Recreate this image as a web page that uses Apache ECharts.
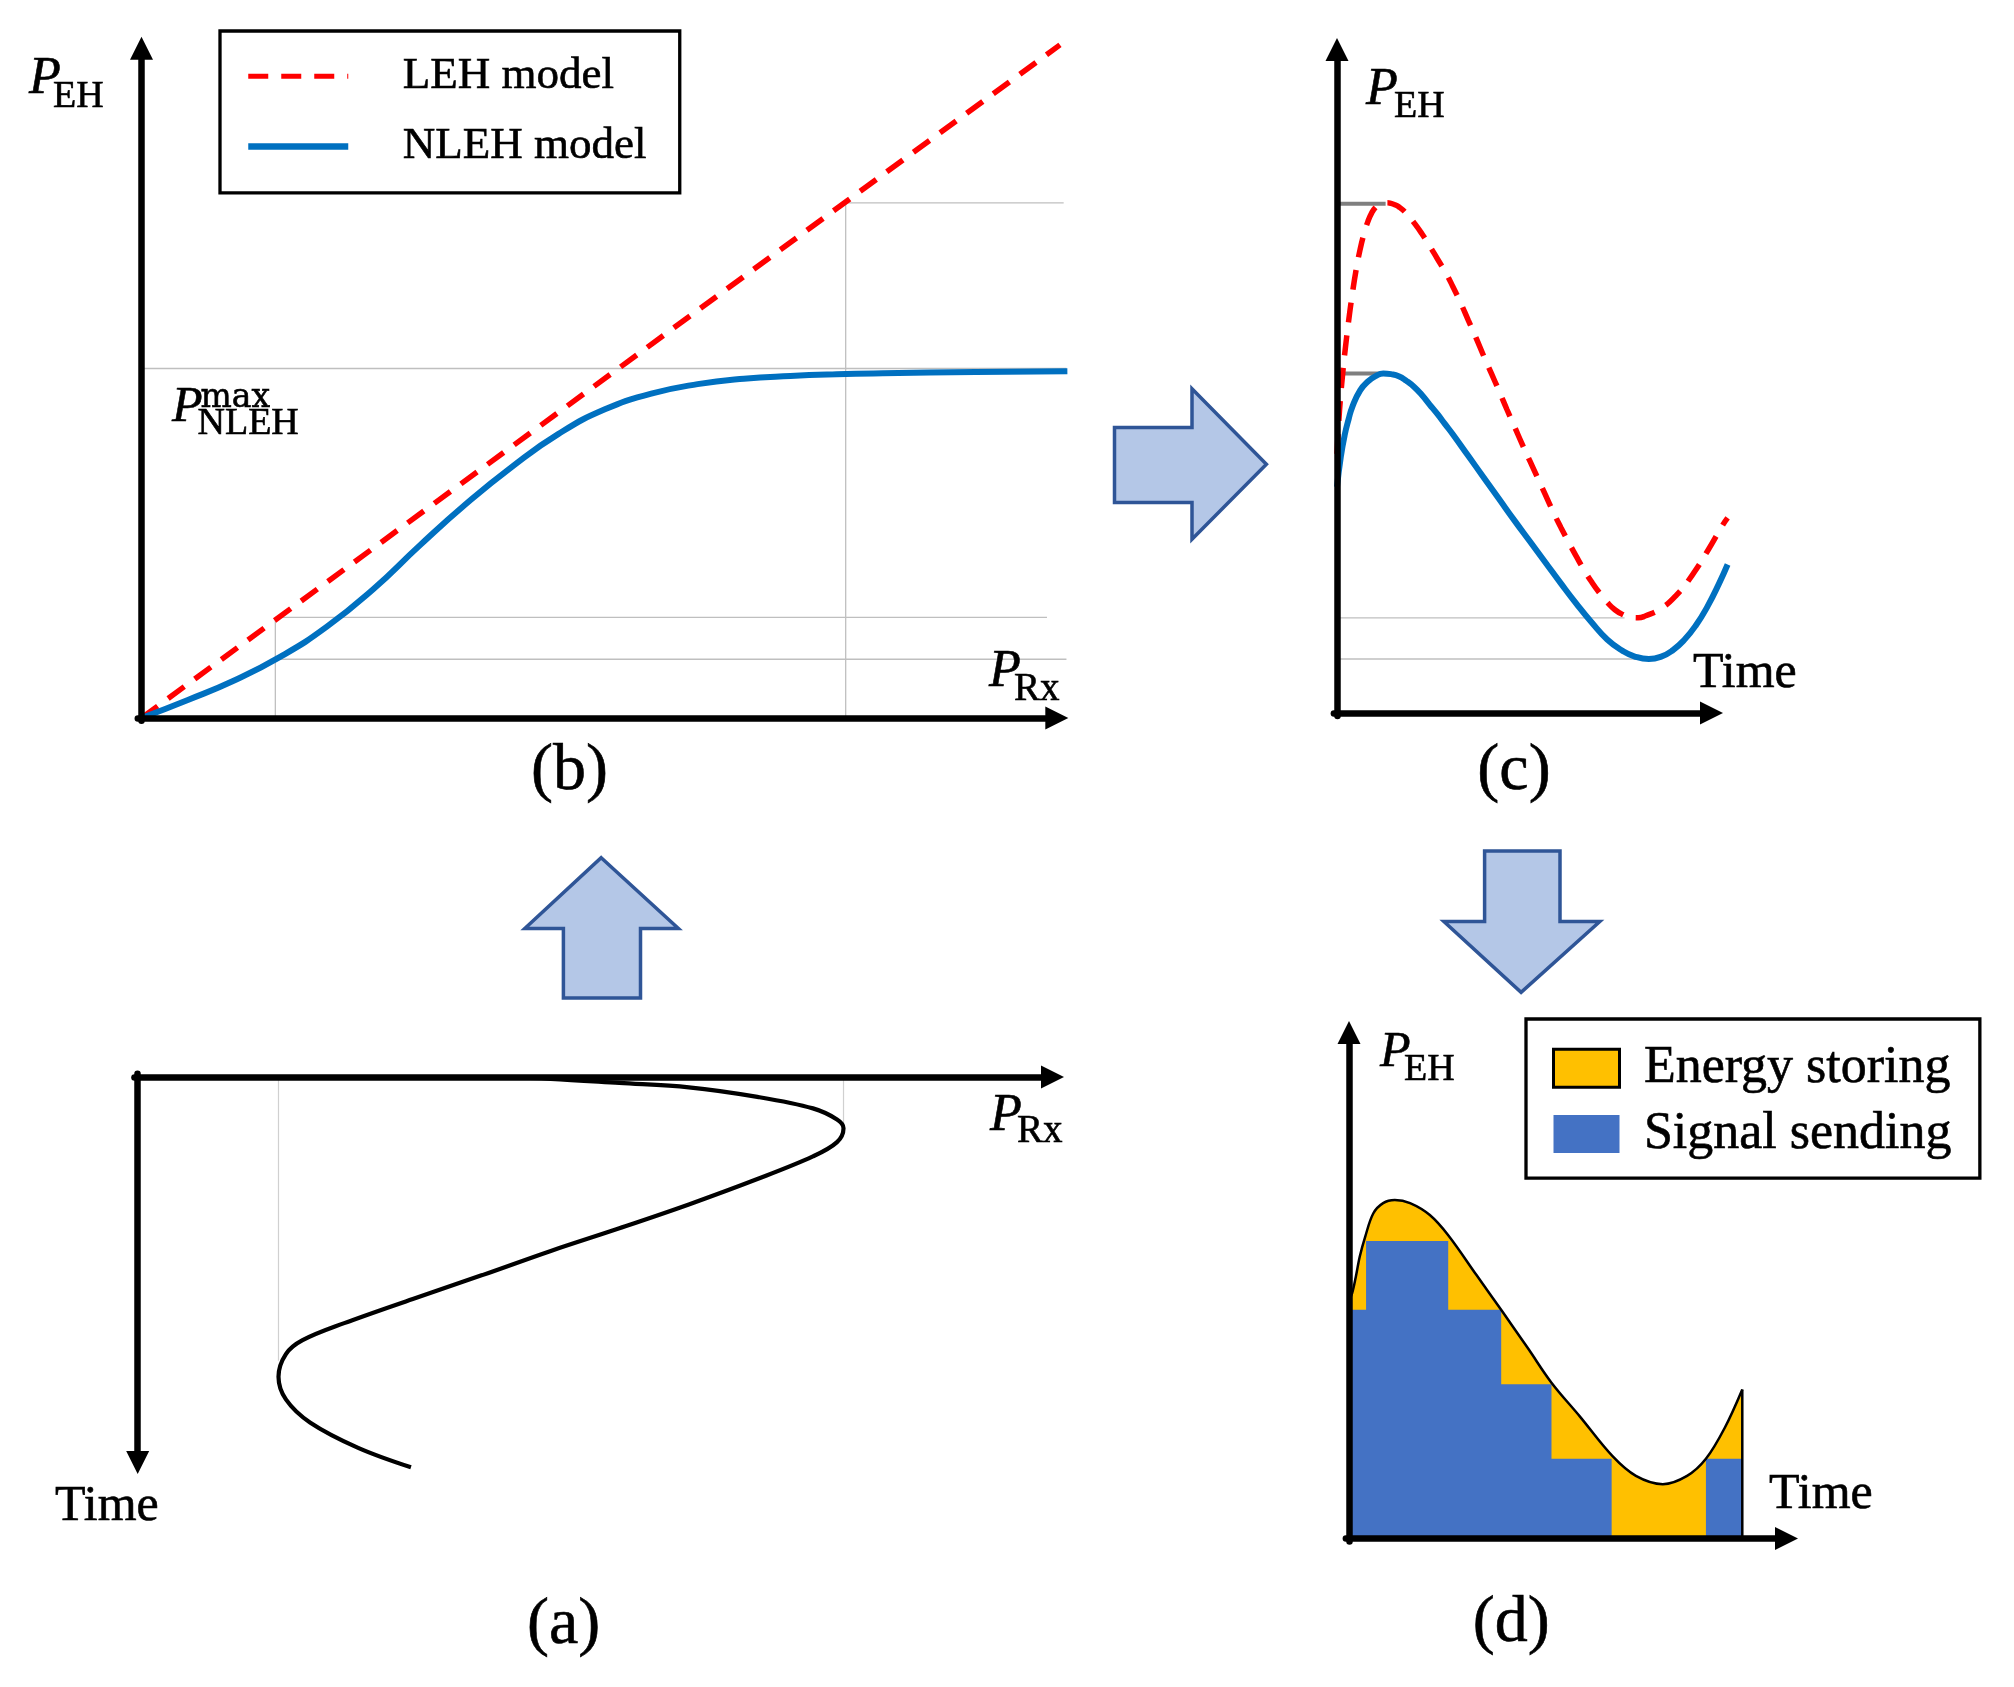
<!DOCTYPE html>
<html>
<head>
<meta charset="utf-8">
<title>LEH vs NLEH energy harvesting</title>
<script src="https://cdn.jsdelivr.net/npm/echarts@6.0.0/dist/echarts.min.js"></script>
<style>
html,body{margin:0;padding:0;background:#ffffff;}
#chart{width:2014px;height:1687px;}
</style>
</head>
<body>
<div id="chart"></div>
<script>
// ================= DATA =================
// Panel (b): harvested power P_EH versus received power P_Rx
const bLegendNames = ['LEH model', 'NLEH model'];
const bLEH = [[0, 0], [99.1, 98.8]];
const bNLEH = [[0,0],[5,2.65],[10,5.5],[15,9.0],[20,13.4],[25,18.9],[30,25.3],[35,31.4],[40,36.9],[45,41.7],[50,45.3],[55,47.6],[60,49.0],[65,49.8],[70,50.2],[75,50.45],[80,50.6],[90,50.8],[99.9,50.9]];
// guide lines in (b): each is [start, end] in data units
const bGuides = [
  [[75.98,75.6],[99.5,75.6]],
  [[0,51.3],[99.8,51.3]],
  [[14.44,14.78],[97.7,14.78]],
  [[14.44,8.62],[99.8,8.62]],
  [[14.44,0],[14.44,14.78]],
  [[75.98,0],[75.98,75.6]]
];

// Panel (c): P_EH versus time for both models
const cLEH = [[0,38.4],[0.5,43.5],[1,47.3],[1.5,50.4],[2,53.2],[3,58],[4,62.2],[5,65.8],[6,68.7],[7,71],[8,72.8],[9,74.1],[10,74.9],[11,75.3],[12,75.5],[13,75.6],[14,75.5],[15,75.3],[16,75],[18,74],[20,72.6],[22,71],[24,69.2],[26,67.3],[28,65.4],[30,63.2],[32,60.8],[34,58.2],[36,55.6],[38,52.9],[40,50.3],[42,47.7],[44,45],[46,42.4],[48,39.8],[50,37.3],[52,34.8],[54,32.3],[56,29.8],[58,27.5],[60,25.3],[62,23.2],[64,21.2],[66,19.4],[68,17.8],[70,16.4],[72,15.3],[74,14.6],[76,14.2],[78,14.1],[80,14.4],[84,15.5],[88,17.5],[92,20.4],[96,24],[100,27.9],[101.2,28.9]];
const cNLEH = [[0,33.5],[1,38],[2,41.2],[3,43.5],[4,45.4],[6,47.8],[8,49.1],[10,49.9],[12,50.3],[14,50.2],[16,49.9],[18,49.2],[20,48.3],[22,47.1],[24,45.7],[26,44.3],[28,42.8],[30,41.3],[34,38.1],[38,34.9],[42,31.7],[46,28.5],[50,25.4],[54,22.3],[58,19.2],[62,16.2],[66,13.4],[70,10.9],[74,9.2],[77,8.4],[80.8,8],[84,8.35],[87,9.3],[90,10.85],[93,13],[96,15.8],[99,19.2],[101.2,22]];
const cPeakGuides = [[[0,75.45],[12.6,75.45]], [[0,50.3],[11.6,50.3]]];
const cValleyGuides = [[[0,14.1],[74.5,14.1]], [[0,8.0],[80.8,8.0]]];

// Panel (a): received power P_Rx over time (time runs downward)
const aPRx = [[39.4,0],[44.6,0.45],[52,1.5],[59.5,2.6],[66.9,5],[72.9,7.9],[75.5,10.7],[76.2,12.9],[75.5,16.4],[72.9,20],[66.9,25.7],[59.5,32.1],[52,38.1],[44.6,43.8],[37.2,49.9],[29.7,55.9],[22.3,62],[17.8,66.3],[16,69.8],[15.2,75.5],[16,81.2],[18.6,87],[23.8,93.4],[29.5,98.3]];
const aGuides = [[[15.2,0],[15.2,71.5]], [[76.2,0],[76.2,12.9]]];

// Panel (d): harvested power split into storing / sending
const dLegendNames = ['Energy storing', 'Signal sending'];
const dHarvest = [[0,46],[0.7,47.4],[1.5,50.5],[2.4,54.5],[3.6,58.3],[5.4,62.8],[7.6,64.8],[10.2,65.4],[13.6,64.8],[18,62.5],[22.1,58.6],[28.4,50.9],[34.2,43.8],[39.9,36.7],[45.1,30.1],[51.4,23.6],[58.7,15.9],[63.9,12.1],[69.9,10.5],[75.3,12.1],[79.5,15.4],[83.7,21.4],[87.6,28.8]];
const dSending = [[0,44.2],[3.8,57.5],[22.1,44.2],[33.9,29.8],[45.1,15.4],[58.5,0],[79.5,15.4],[87.6,15.4]];

// Text
const panelLabels = ['(a)', '(b)', '(c)', '(d)'];
const axisWords = { power: 'P', eh: 'EH', rx: 'Rx', time: 'Time', max: 'max', nleh: 'NLEH' };

// ================= STYLE / LAYOUT =================
const SERIF = '"Liberation Serif", "Times New Roman", serif';
const RED = '#FF0000', BLUE = '#0070C0', GOLD = '#FFC000', SEND = '#4472C4';
const GUIDE = '#BFBFBF', PEAK = '#7F7F7F';
const TXT_STROKE = 0.6;

// data grids (0..3) reach the arrow tips; arrow grids (4..7) end at the arrow bases
const dataGrids = [
  {left:137.8, top:36.7, width:930.5, height:684},        // (b)
  {left:1333.9, top:38, width:396.8, height:678.04},      // (c)
  {left:134.46, top:1073.82, width:929.5, height:400.2},  // (a)
  {left:1345.86, top:1021, width:452.1, height:520.6}     // (d)
];
const arrowGrids = [
  {left:137.8, top:59.7, width:907.5, height:661},
  {left:1333.9, top:61, width:366.1, height:655.04},
  {left:134.46, top:1073.82, width:906.54, height:377.18},
  {left:1345.86, top:1044, width:429.14, height:497.6}
];

function axisLine(sym, off) {
  return {show:true, onZero:true, lineStyle:{color:'#000', width:6.5}, symbol:sym, symbolSize:[23,23], symbolOffset:off};
}
function valAxis(gi, min, max, extra) {
  return Object.assign({
    type:'value', gridIndex:gi, min:min, max:max, z:10, silent:true,
    axisLine: {show:false},
    axisTick:{show:false}, axisLabel:{show:false}, splitLine:{show:false}
  }, extra || {});
}
function lineS(gi, data, color, width, extra) {
  return Object.assign({
    type:'line', xAxisIndex:gi, yAxisIndex:gi, data:data, symbol:'none', showSymbol:false,
    clip:false, silent:true, animation:false,
    lineStyle:{color:color, width:width}, itemStyle:{color:color}
  }, extra || {});
}
const arrowOn = axisLine(['none','triangle'], [0, 11.5]);

const xAxes = [
  valAxis(0, -0.4, 100), valAxis(1, -0.8, 102), valAxis(2, -0.35, 100), valAxis(3, -0.7, 100),
  valAxis(4, -0.4, 97.52, {axisLine:arrowOn}),
  valAxis(5, -0.8, 94.04, {axisLine:arrowOn}),
  valAxis(6, -0.35, 97.52, {axisLine:arrowOn}),
  valAxis(7, -0.7, 94.88, {axisLine:arrowOn})
];
const yAxes = [
  valAxis(0, -0.4, 100), valAxis(1, -0.45, 100), valAxis(2, -0.8, 100, {inverse:true}), valAxis(3, -0.6, 100),
  valAxis(4, -0.4, 96.62, {axisLine:arrowOn}),
  valAxis(5, -0.45, 96.59, {axisLine:arrowOn}),
  valAxis(6, -0.8, 94.21, {inverse:true, axisLine: axisLine(['triangle','none'], [-11.5, 0])}),
  valAxis(7, -0.6, 95.56, {axisLine:arrowOn})
];

const series = [];
// (b) grid 0
bGuides.forEach(g => series.push(lineS(0, g, GUIDE, 1.3)));
series.push(lineS(0, bLEH, RED, 5.5, {name:bLegendNames[0], lineStyle:{color:RED, width:5.5, type:[20,13]}}));
series.push(lineS(0, bNLEH, BLUE, 6, {name:bLegendNames[1], smooth:0.5}));
// (c) grid 1
cValleyGuides.forEach(g => series.push(lineS(1, g, GUIDE, 1.3)));
cPeakGuides.forEach(g => series.push(lineS(1, g, PEAK, 4)));
series.push(lineS(1, cLEH, RED, 5.5, {smooth:0.5, lineStyle:{color:RED, width:5.5, type:[20,13]}}));
series.push(lineS(1, cNLEH, BLUE, 6, {smooth:0.5}));
// (a) grid 2
aGuides.forEach(g => series.push(lineS(2, g, '#D0D0D0', 1.2)));
series.push(lineS(2, aPRx, '#000', 4.2, {smooth:0.35}));
// (d) grid 3
series.push(lineS(3, dHarvest, GOLD, 0, {name:dLegendNames[0], smooth:0.35, areaStyle:{color:GOLD, opacity:1}, lineStyle:{width:0, color:GOLD}}));
series.push(lineS(3, dSending, SEND, 0, {name:dLegendNames[1], step:'end', areaStyle:{color:SEND, opacity:1}, lineStyle:{width:0, color:SEND}}));
series.push(lineS(3, dHarvest, '#000', 2.5, {smooth:0.35}));
const dLast = dHarvest[dHarvest.length - 1];
series.push(lineS(3, [dLast, [dLast[0], 0]], '#000', 2.5));

// text helpers (baseline placement)
function T(x, base, text, size, opt) {
  opt = opt || {};
  const fam = opt.family || SERIF;
  return {type:'text', x:x, y: base - 0.3375 * size, silent:true, z:100,
    style:{text:text, font:(opt.italic ? 'italic ' : '') + size + 'px ' + fam, fill:'#000',
      stroke:'#000', lineWidth:TXT_STROKE,
      textAlign: opt.align || 'left', align: opt.align || 'left',
      textVerticalAlign:'middle', verticalAlign:'middle'}};
}
function pSub(x, base, sub, pSize, sSize, dx, dBase) {
  return [T(x, base, axisWords.power, pSize, {italic:true}), T(x + dx, base + dBase, sub, sSize)];
}
const arrowStyle = {fill:'#B4C7E7', stroke:'#2F5597', lineWidth:3.5};

const graphics = [].concat(
  pSub(29, 96.5, axisWords.eh, 52, 38, 24, 13.2),          // (b) P_EH
  pSub(989, 690, axisWords.rx, 52, 39, 25, 13.3),          // (b) P_Rx
  [T(172, 425, axisWords.power, 50, {italic:true}),
   T(200.5, 409.3, axisWords.max, 33, {family:'"DejaVu Serif", serif'}),
   T(197.5, 436.5, axisWords.nleh, 38)],
  pSub(1366, 108, axisWords.eh, 52, 38, 28, 12),           // (c) P_EH
  [T(1693, 691, axisWords.time, 50)],                      // (c) Time
  pSub(990, 1133.5, axisWords.rx, 52, 39, 27, 11.5),       // (a) P_Rx
  [T(55, 1524, axisWords.time, 50)],                       // (a) Time
  pSub(1380, 1070, axisWords.eh, 50, 38, 24, 13.3),        // (d) P_EH
  [T(1769, 1511.5, axisWords.time, 50)],                   // (d) Time
  [T(563.6, 1648, panelLabels[0], 66, {align:'center'}),
   T(569.5, 793.5, panelLabels[1], 66, {align:'center'}),
   T(1514, 794, panelLabels[2], 66, {align:'center'}),
   T(1511.3, 1645.5, panelLabels[3], 66, {align:'center'})],
  [
    {type:'polygon', z:50, silent:true, shape:{points:[[1114.5,427.6],[1192,427.6],[1192,388.8],[1266.4,464.3],[1192,539.3],[1192,502.6],[1114.5,502.6]]}, style:arrowStyle},
    {type:'polygon', z:50, silent:true, shape:{points:[[601.2,857.7],[678.4,928.4],[640.5,928.4],[640.5,998],[563.4,998],[563.4,928.4],[524.8,928.4]]}, style:arrowStyle},
    {type:'polygon', z:50, silent:true, shape:{points:[[1484.6,850.9],[1560,850.9],[1560,921.6],[1599.8,921.6],[1521.1,992.3],[1443.9,921.6],[1484.6,921.6]]}, style:arrowStyle}
  ]
);

const legendText = (size, gap) => ({
  fontFamily:SERIF, fontSize:size, color:'#000', lineHeight:size,
  rich:{g:{width:gap, fontFamily:SERIF, fontSize:size, lineHeight:size},
        t:{fontFamily:SERIF, fontSize:size, lineHeight:size, color:'#000', textBorderColor:'#000', textBorderWidth:TXT_STROKE}}
});

const option = {
  backgroundColor:'#ffffff',
  animation:false,
  grid: dataGrids.concat(arrowGrids),
  xAxis: xAxes,
  yAxis: yAxes,
  legend:[
    {
      orient:'vertical', left:220, top:31, padding:[22.5,33,23.5,25],
      itemGap:24.7, itemWidth:100, itemHeight:14, selectedMode:false,
      borderColor:'#000', borderWidth:3.3, backgroundColor:'#fff',
      data:[
        {name:bLegendNames[0], lineStyle:{color:RED, width:5, type:[20,13]}, itemStyle:{opacity:0}},
        {name:bLegendNames[1], lineStyle:{color:BLUE, width:6.5, type:'solid'}, itemStyle:{opacity:0}}
      ],
      itemStyle:{opacity:0},
      textStyle: legendText(45, 49.5),
      formatter:function(n){ return '{g| }{t|' + n + '}'; }
    },
    {
      orient:'vertical', left:1526, top:1019, padding:[23,28,18,26],
      itemGap:13, itemWidth:66, itemHeight:38, selectedMode:false,
      borderColor:'#000', borderWidth:3.3, backgroundColor:'#fff',
      data:[
        {name:dLegendNames[0], icon:'rect', itemStyle:{color:GOLD, borderColor:'#000', borderWidth:3, opacity:1}},
        {name:dLegendNames[1], icon:'rect', itemStyle:{color:SEND, borderColor:SEND, borderWidth:0, opacity:1}}
      ],
      textStyle: legendText(52, 19.4),
      formatter:function(n){ return '{g| }{t|' + n + '}'; }
    }
  ],
  series:series,
  graphic:{elements:graphics}
};

const chart = echarts.init(document.getElementById('chart'), null, {renderer:'canvas', width:2014, height:1687});
chart.setOption(option);
</script>
</body>
</html>
